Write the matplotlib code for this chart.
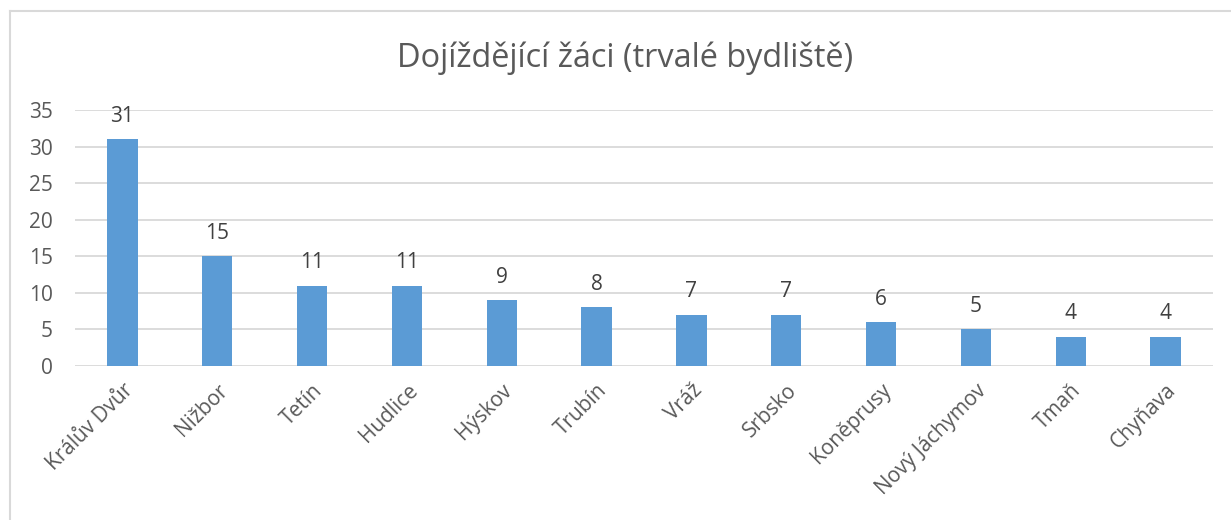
import matplotlib.pyplot as plt
from matplotlib.lines import Line2D

# dojíždějící žáci podle obce
obce = ["Králův Dvůr", "Nižbor", "Tetín", "Hudlice", "Hýskov", "Trubín", "Vráž",
        "Srbsko", "Koněprusy", "Nový Jáchymov", "Tmaň", "Chyňava"]
pocty = [31, 15, 11, 11, 9, 8, 7, 7, 6, 5, 4, 4]
yticks = [0, 5, 10, 15, 20, 25, 30, 35]

plt.rcParams['font.family'] = ['Open Sans', 'DejaVu Sans']
seda = "#595959"

fig = plt.figure(figsize=(12.31, 5.20), dpi=100)
ax = fig.add_axes([75/1231, 1-366/520, (1213-75)/1231, (366-110)/520])

x = range(len(obce))
bars = ax.bar(x, pocty, width=0.32, color="#5B9BD5", zorder=3)
for b, v in zip(bars, pocty):
    ax.text(b.get_x() + b.get_width()/2, v + 1.7, str(v), ha="center", va="bottom",
            fontsize=15, color="#404040")

ax.set_xlim(-0.5, len(obce) - 0.5)
ax.set_ylim(0, 35)
ax.set_yticks(yticks)
ax.yaxis.grid(True, color="#D9D9D9", linewidth=1.3, zorder=0)
for s in ax.spines.values():
    s.set_visible(False)
ax.tick_params(axis="both", length=0, labelsize=15, colors=seda)
ax.tick_params(axis="y", pad=16)
ax.set_xticks(list(x))
ax.set_xticklabels(obce, rotation=45, ha="right", va="top", rotation_mode="anchor")
ax.tick_params(axis="x", pad=10)

fig.text(0.508, 1-58/520, "Dojíždějící žáci (trvalé bydliště)", ha="center", va="center",
         fontsize=23.4, color=seda)

# rámeček grafu
fig.add_artist(Line2D([10/1231, 10/1231], [0, 1-11/520], color="#D9D9D9", lw=1.5))
fig.add_artist(Line2D([10/1231, 1], [1-11/520, 1-11/520], color="#D9D9D9", lw=1.5))

fig.savefig("out.png", dpi=100)
